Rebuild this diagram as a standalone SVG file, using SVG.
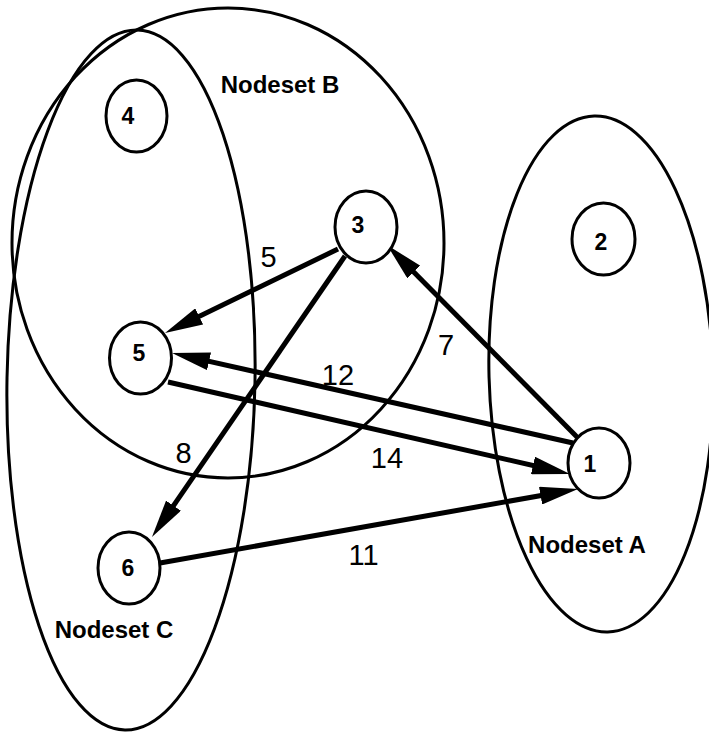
<svg xmlns="http://www.w3.org/2000/svg" width="709" height="733" viewBox="0 0 709 733">
<style>
.set{fill:none;stroke:#000;stroke-width:3}
.nd{fill:#fff;stroke:#000;stroke-width:3}
.edge{fill:none;stroke:#000;stroke-width:5}
.nl{font-family:"Liberation Sans",Arial,sans-serif;font-weight:bold;font-size:23px;text-anchor:middle;fill:#000}
.sl{font-family:"Liberation Sans",Arial,sans-serif;font-weight:bold;font-size:24px;text-anchor:middle;fill:#000}
.el{font-family:"Liberation Sans",Arial,sans-serif;font-size:29px;text-anchor:middle;fill:#000}
</style>
<defs>
<marker id="ah" markerUnits="userSpaceOnUse" viewBox="0 0 38 18" refX="18" refY="9" markerWidth="38" markerHeight="18" orient="auto">
<path d="M0,0 L38,9 L0,18 Z" fill="#000"/>
</marker>
</defs>
<rect width="709" height="733" fill="#fff"/>
<g id="nodeset-B">
<ellipse class="set" cx="228" cy="243" rx="216" ry="235"/>
<text class="sl" x="280" y="93">Nodeset B</text>
</g>
<g id="nodeset-C">
<ellipse class="set" cx="131" cy="380" rx="124" ry="350" transform="rotate(1 131 380)"/>
<text class="sl" x="114" y="638">Nodeset C</text>
</g>
<g id="nodeset-A">
<ellipse class="set" cx="601" cy="374" rx="112" ry="258" transform="rotate(-1.5 601 374)"/>
<text class="sl" x="587" y="553">Nodeset A</text>
</g>
<g id="connectors">
<line class="edge" x1="577" y1="437" x2="401.1" y2="259.2" marker-end="url(#ah)"/>
<line class="edge" x1="573" y1="443" x2="191.5" y2="357.4" marker-end="url(#ah)"/>
<line class="edge" x1="168" y1="382" x2="550.5" y2="469.5" marker-end="url(#ah)"/>
<line class="edge" x1="160" y1="563" x2="558.3" y2="492.5" marker-end="url(#ah)"/>
<line class="edge" x1="338" y1="249" x2="183" y2="324.3" marker-end="url(#ah)"/>
<line class="edge" x1="345" y1="256" x2="163.3" y2="520.5" marker-end="url(#ah)"/>
<text class="el" x="268.5" y="267">5</text>
<text class="el" x="446" y="355">7</text>
<text class="el" x="338" y="385">12</text>
<text class="el" x="387" y="468">14</text>
<text class="el" x="183.5" y="463">8</text>
<text class="el" x="363.5" y="565">11</text>
</g>
<g id="node-4">
<ellipse class="nd" cx="136.5" cy="116" rx="30.5" ry="36"/>
<text class="nl" x="128" y="124">4</text>
</g>
<g id="node-3">
<ellipse class="nd" cx="366" cy="227" rx="31" ry="36"/>
<text class="nl" x="358" y="233">3</text>
</g>
<g id="node-5">
<ellipse class="nd" cx="140.5" cy="358" rx="31" ry="36"/>
<text class="nl" x="139" y="361">5</text>
</g>
<g id="node-6">
<ellipse class="nd" cx="129" cy="568" rx="31" ry="36"/>
<text class="nl" x="128" y="576">6</text>
</g>
<g id="node-1">
<ellipse class="nd" cx="599" cy="463" rx="31" ry="35"/>
<text class="nl" x="590" y="472">1</text>
</g>
<g id="node-2">
<ellipse class="nd" cx="603.5" cy="239" rx="31.5" ry="36"/>
<text class="nl" x="601" y="250">2</text>
</g>
</svg>
